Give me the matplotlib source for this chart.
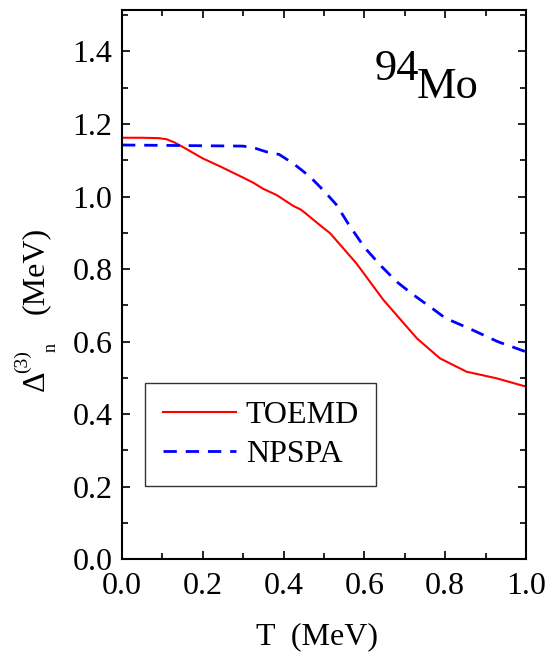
import matplotlib
matplotlib.use("Agg")
import matplotlib.pyplot as plt
from matplotlib.ticker import MultipleLocator

plt.rcParams['font.family'] = ['Liberation Serif', 'DejaVu Serif']

# TOEMD (red, solid)
t_toemd = [0.0, 0.05, 0.09, 0.11, 0.13, 0.15, 0.20, 0.243, 0.30, 0.325, 0.35, 0.383,
           0.424, 0.441, 0.453, 0.49, 0.515, 0.58, 0.647, 0.73, 0.787, 0.853, 0.927, 1.0]
gap_toemd = [1.162, 1.162, 1.161, 1.158, 1.149, 1.137, 1.105, 1.083, 1.052, 1.038, 1.021, 1.004,
             0.974, 0.965, 0.955, 0.921, 0.899, 0.816, 0.715, 0.609, 0.554, 0.517, 0.499, 0.476]

# NPSPA (blue, dashed)
t_npspa = [0.0, 0.10, 0.20, 0.30, 0.33, 0.358, 0.389, 0.424, 0.465, 0.502, 0.531, 0.56,
           0.60, 0.64, 0.68, 0.72, 0.77, 0.80, 0.86, 0.93, 1.0]
gap_npspa = [1.142, 1.141, 1.140, 1.139, 1.133, 1.123, 1.116, 1.091, 1.055, 1.013, 0.977, 0.925,
             0.860, 0.810, 0.765, 0.730, 0.690, 0.665, 0.636, 0.600, 0.572]

W, H = 554, 658
fig = plt.figure(figsize=(W / 100, H / 100), dpi=100)
ax = fig.add_axes([122 / W, 1 - 559.3 / H, 404 / W, 549.6 / H])

ax.plot(t_toemd, gap_toemd, color="red", lw=1.5, label="TOEMD")
ax.plot(t_npspa, gap_npspa, color="blue", lw=2.0, dashes=(4.8, 3.2), label="NPSPA")

ax.set_xlim(0, 1.0)
ax.set_ylim(0, 1.515)
ax.xaxis.set_major_locator(MultipleLocator(0.2))
ax.xaxis.set_minor_locator(MultipleLocator(0.1))
ax.yaxis.set_major_locator(MultipleLocator(0.2))
ax.yaxis.set_minor_locator(MultipleLocator(0.1))
ax.xaxis.set_major_formatter(lambda v, p: f"{v:.1f}")
ax.yaxis.set_major_formatter(lambda v, p: f"{v:.1f}")

ax.tick_params(which="both", direction="in", top=True, right=True, width=1.2, labelsize=23)
ax.tick_params(which="major", length=6)
ax.tick_params(which="minor", length=4)
ax.tick_params(axis="x", pad=9)
ax.tick_params(axis="y", pad=7)
for s in ax.spines.values():
    s.set_linewidth(1.5)

leg = ax.legend(loc="upper left", bbox_to_anchor=(0.057, 0.321), borderaxespad=0,
                fontsize=23, frameon=True, fancybox=False, edgecolor="black",
                handlelength=2.3, handletextpad=0.3, labelspacing=0.3, borderpad=0.55)
leg.get_frame().set_linewidth(1.0)

# nucleus label
fig.text(375 / W, 1 - 80 / H, "94", fontsize=32, ha="left", va="baseline")
fig.text(417 / W, 1 - 98 / H, "Mo", fontsize=32, ha="left", va="baseline")

# axis labels
fig.text(317 / W, 1 - 637 / H, "T  (MeV)", fontsize=23, ha="center", va="center")
fig.text(36 / W, 1 - 381 / H, "\u0394", fontsize=23, rotation=90, ha="center", va="center")
fig.text(22 / W, 1 - 362 / H, "(3)", fontsize=14, rotation=90, ha="center", va="center")
fig.text(51 / W, 1 - 347 / H, "n", fontsize=13, rotation=90, ha="center", va="center")
fig.text(35 / W, 1 - 270 / H, "(MeV)", fontsize=23, rotation=90, ha="center", va="center")

fig.savefig("out.png", dpi=100)
